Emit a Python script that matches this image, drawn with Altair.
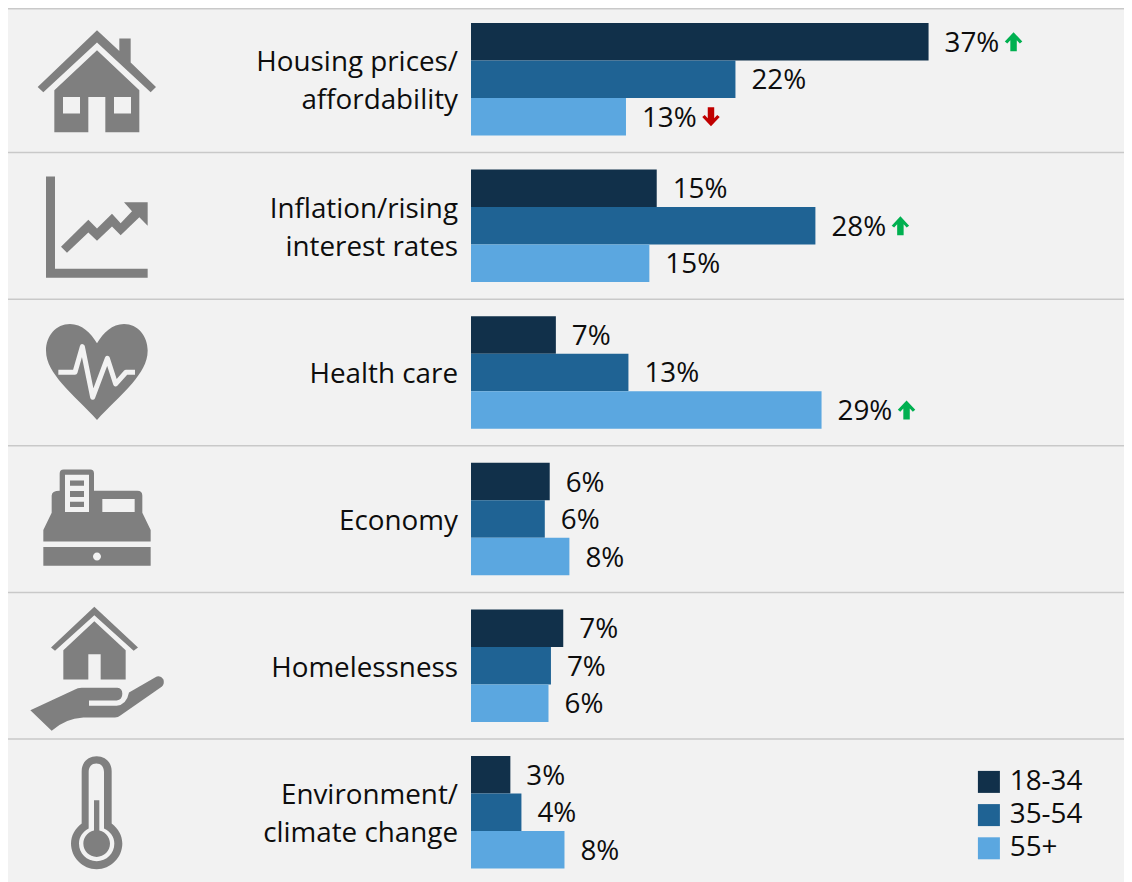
import re
import altair as alt
import pandas as pd

categories = ["Housing prices/\naffordability", "Inflation/rising\ninterest rates", "Health care",
              "Economy", "Homelessness", "Environment/\nclimate change"]
groups = ["18-34", "35-54", "55+"]
colors = ["#11304a", "#1f6394", "#5ba7e0"]
values_18_34 = [37.2, 15.1, 6.9, 6.4, 7.5, 3.2]
values_35_54 = [21.5, 28.0, 12.8, 6.0, 6.5, 4.1]
values_55 = [12.6, 14.5, 28.5, 8.0, 6.3, 7.6]
labels_18_34 = ["37%", "15%", "7%", "6%", "7%", "3%"]
labels_35_54 = ["22%", "28%", "13%", "6%", "7%", "4%"]
labels_55 = ["13%", "15%", "29%", "8%", "6%", "8%"]
arrows = {("Housing prices/\naffordability", "18-34"): "up",
          ("Housing prices/\naffordability", "55+"): "down",
          ("Inflation/rising\ninterest rates", "35-54"): "up",
          ("Health care", "55+"): "up"}

FONT = "Open Sans"
FONT_SIZE = 27.8
INK = "#0d0d0d"
GREY = "#7f7f7f"
BG = "#f2f2f2"
ICON_H = 100.0


def norm(path, cx, cy):
    nums = iter(re.findall(r"[A-Za-z]|-?\d+\.?\d*", path))
    out = []
    is_x = True
    for tok in nums:
        if tok.isalpha():
            out.append(tok)
            is_x = True
        else:
            v = float(tok)
            out.append(f"{((v - cx) if is_x else (v - cy)) / 3 / ICON_H:.4f}")
            is_x = not is_x
    return " ".join(out)


def circle(x, y, r, cw=True):
    k = 0.5523 * r
    if cw:
        return (f"M{x} {y - r} C{x + k} {y - r} {x + r} {y - k} {x + r} {y} "
                f"C{x + r} {y + k} {x + k} {y + r} {x} {y + r} "
                f"C{x - k} {y + r} {x - r} {y + k} {x - r} {y} "
                f"C{x - r} {y - k} {x - k} {y - r} {x} {y - r} Z ")
    return (f"M{x} {y - r} C{x - k} {y - r} {x - r} {y - k} {x - r} {y} "
            f"C{x - r} {y + k} {x - k} {y + r} {x} {y + r} "
            f"C{x + k} {y + r} {x + r} {y + k} {x + r} {y} "
            f"C{x + r} {y - k} {x + k} {y - r} {x} {y - r} Z ")


def rect(x0, y0, x1, y1, cw=True):
    if cw:
        return f"M{x0} {y0} L{x1} {y0} L{x1} {y1} L{x0} {y1} Z "
    return f"M{x0} {y0} L{x0} {y1} L{x1} {y1} L{x1} {y0} Z "


house = norm("M231 60 L298 122 L298 85 L332 85 L332 157 L408 230 L392 246 L231 97 L70 246 L53 230 Z "
             "M231 120 L358 240 L358 366 L256 366 L256 260 L205 260 L205 366 L103 366 L103 240 Z "
             + rect(129, 260, 180, 310, False) + rect(282, 260, 333, 310, False), 231, 207)
trend = norm("M78 500 L105 500 L105 777 L383 777 L383 804 L78 804 Z "
             "M123 711 L205 630 L231 656 L276 612 L302 640 L336 604 L312 577 L383 577 L383 648 L358 622 "
             "L302 676 L276 650 L231 693 L205 668 L141 729 Z", 231, 648)
heart = norm("M231 100 C212 68 185 42 150 42 C108 42 78 78 78 122 C78 160 100 190 125 220 "
             "C160 260 200 295 231 330 C262 295 302 260 337 220 C362 190 383 160 383 122 "
             "C383 78 353 42 312 42 C277 42 250 68 231 100 Z", 231, 187.5)
pulse = norm("M115 187 L165 187 L187 110 L218 262 L262 145 L287 222 L318 187 L345 187", 231, 187.5)
register = norm("M119 490 Q119 478 131 478 L211 478 Q222 478 222 490 L222 542 L352 542 Q367 542 367 557 "
                "L367 608 L392 660 L392 694 L70 694 L70 660 L95 608 L95 557 Q95 542 119 542 Z "
                + rect(135, 494, 207, 606, False) + rect(150, 511, 192, 527) + rect(150, 543, 192, 561)
                + rect(150, 575, 192, 591) + rect(247, 567, 344, 606, False)
                + rect(70, 711, 392, 767) + circle(231, 739, 12, False), 231, 627)
shelter = norm("M223 35 L354 157 L341 167 L223 60 L105 167 L93 157 Z "
               "M223 78 L317 165 L317 253 L242 253 L242 177 L205 177 L205 253 L130 253 L130 165 Z "
               "M31 345 L165 283 Q172 278 185 278 L292 278 Q307 280 307 296 Q307 314 290 316 L207 316 "
               "L207 332 L290 332 Q320 328 327 292 L405 247 Q420 238 430 252 Q435 265 425 275 L300 362 "
               "Q295 367 285 367 L190 367 Q135 370 95 407 Z", 231, 211.5)
thermo = norm("M185 528 C185 500 205 483 230 483 C255 483 275 500 275 528 L275 685 C295 700 307 722 307 745 "
              "C307 787 272 822 230 822 C188 822 153 787 153 745 C153 722 165 700 185 685 Z "
              "M206 530 L206 700 C188 710 177 725 177 745 C177 775 200 798 230 798 C260 798 283 775 283 745 "
              "C283 725 272 710 252 700 L252 530 C252 515 243 505 229 505 C215 505 206 515 206 530 Z "
              + rect(222, 615, 238, 710) + circle(230, 745, 40), 231, 651)
icons = [house, trend, heart, register, shelter, thermo]

ARROW_UP = ("M0 -1 L0.92 -0.02 L0.66 0.18 L0.34 -0.16 L0.34 1 L-0.34 1 L-0.34 -0.16 "
            "L-0.66 0.18 L-0.92 -0.02 Z")
ARROW_DOWN = ("M0 1 L0.92 0.02 L0.66 -0.18 L0.34 0.16 L0.34 -1 L-0.34 -1 L-0.34 0.16 "
              "L-0.66 -0.18 L-0.92 0.02 Z")

rows = []
for g, vals, labs in zip(groups, [values_18_34, values_35_54, values_55],
                         [labels_18_34, labels_35_54, labels_55]):
    for c, v, l in zip(categories, vals, labs):
        rows.append({"cat": c, "group": g, "value": v, "label": l, "arrow": arrows.get((c, g), "")})
df = pd.DataFrame(rows)
cat_df = pd.DataFrame({"cat": categories, "icon": icons,
                       "lines": [c.count("\n") + 1 for c in categories]})

y_scale = alt.Scale(domain=categories, range=[15, 860.5], paddingInner=0.2326, paddingOuter=0)
Y = alt.Y("cat:N", scale=y_scale, axis=None, sort=categories)
X = alt.X("value:Q", scale=alt.Scale(domain=[0, 40], range=[463, 955], nice=False, zero=False), axis=None)
YO = alt.YOffset("group:N", sort=groups, scale=alt.Scale(domain=groups))

W, H = 1116, 874

bars = alt.Chart(df).mark_bar(size=37.5).encode(
    x=X, y=Y, yOffset=YO,
    color=alt.Color("group:N", sort=groups,
                    scale=alt.Scale(domain=groups, range=colors),
                    legend=alt.Legend(title=None, orient="none", legendX=967, legendY=760,
                                      symbolType="square", symbolSize=484, symbolStrokeWidth=0,
                                      symbolOpacity=1, labelFont=FONT, labelFontSize=FONT_SIZE,
                                      labelColor=INK, rowPadding=4.2, labelOffset=7,
                                      labelLimit=200)),
)
values = alt.Chart(df).mark_text(align="left", baseline="middle", dx=16, dy=2, font=FONT, fontSize=FONT_SIZE,
                                 color=INK).encode(
    x=X, y=Y, yOffset=YO, text="label:N")

arrow_layers = []
for direction, shape, col in [("up", ARROW_UP, "#00b050"), ("down", ARROW_DOWN, "#c00000")]:
    arrow_layers.append(
        alt.Chart(df[df["arrow"] == direction]).mark_point(
            filled=True, shape=shape, size=361, color=col, opacity=1, xOffset=85, yOffset=1
        ).encode(x=X, y=Y, yOffset=YO)
    )

text_style = dict(align="right", baseline="middle", lineBreak="\n", lineHeight=38,
                  font=FONT, fontSize=FONT_SIZE, color=INK)
cat_text_one = alt.Chart(cat_df[cat_df["lines"] == 1]).mark_text(dy=3, **text_style).encode(
    x=alt.value(450), y=Y, text="cat:N")
cat_text_two = alt.Chart(cat_df[cat_df["lines"] == 2]).mark_text(dy=-16, **text_style).encode(
    x=alt.value(450), y=Y, text="cat:N")

icon_layer = alt.Chart(cat_df).mark_point(filled=True, size=(2 * ICON_H) ** 2, color=GREY, opacity=1).encode(
    x=alt.value(89), y=Y,
    shape=alt.Shape("icon:N", scale=None, legend=None))
pulse_layer = alt.Chart(cat_df[cat_df["cat"] == "Health care"]).mark_point(
    filled=False, shape=pulse, size=(2 * ICON_H) ** 2, stroke=BG, strokeWidth=5, opacity=1,
    strokeJoin="round").encode(x=alt.value(89), y=Y)

rules = alt.Chart(cat_df.iloc[1:]).mark_rule(color="#c9c9c9", strokeWidth=1.5, yOffset=-17).encode(
    y=alt.Y("cat:N", scale=y_scale, axis=None, sort=categories, bandPosition=0),
    x=alt.value(0), x2=alt.value(W))
top_rule = alt.Chart(cat_df.iloc[:1]).mark_rule(color="#c9c9c9", strokeWidth=1.5).encode(
    y=alt.value(0.75), x=alt.value(0), x2=alt.value(W))

chart = alt.layer(top_rule, rules, bars, values, *arrow_layers, cat_text_one, cat_text_two,
                  icon_layer, pulse_layer).properties(
    width=W, height=H, background=BG, padding=0,
    autosize=alt.AutoSizeParams(type="none"),
).configure_view(stroke=None)

chart.save("out.html", embed_options={"renderer": "svg", "actions": False})
